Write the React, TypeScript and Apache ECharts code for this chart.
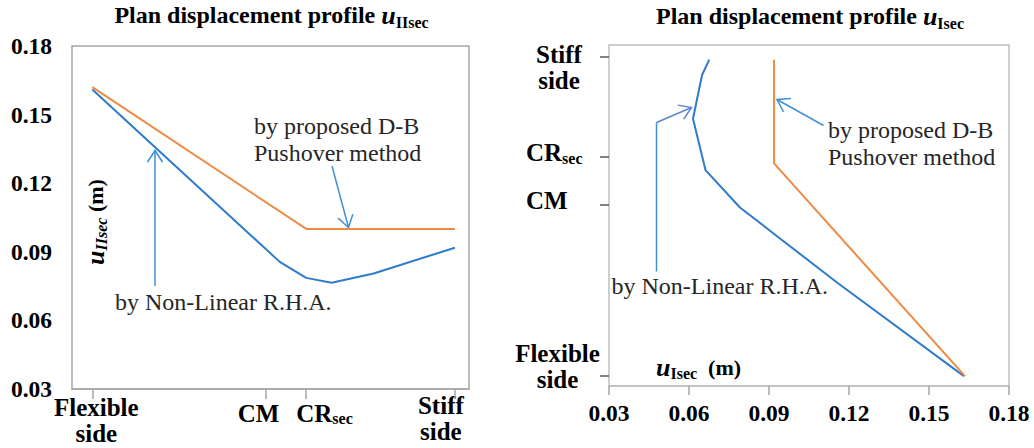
import React, { useEffect, useRef } from "react";
import * as echarts from "echarts";

// ---------- data ----------
// plan position along the section: 0 = flexible side, 10 = stiff side
const valueTicks = [0.03, 0.06, 0.09, 0.12, 0.15, 0.18];

// left chart: u_IIsec vs plan position
const leftPlanLabels = ["Flexible\nside", "CM", "CR", "Stiff\nside"];
const leftPlanPos = [0, 4.78, 5.9, 10];
const leftRhaPos = [0, 5.17, 5.9, 6.6, 7.76, 10];
const leftRhaVal = [0.161, 0.0856, 0.0786, 0.0765, 0.0805, 0.0918];
const leftDbPos = [0, 5.9, 10];
const leftDbVal = [0.162, 0.1, 0.1];

// right chart: u_Isec vs plan position
const rightPlanLabels = ["Flexible\nside", "CM", "CR", "Stiff\nside"];
const rightPlanPos = [0, 5.38, 6.87, 10];
const rightRhaVal = [0.1631, 0.116, 0.0929, 0.0791, 0.0662, 0.0615, 0.0649, 0.0676];
const rightRhaPos = [0, 2.9, 4.39, 5.28, 6.45, 8.06, 9.43, 9.91];
const rightDbVal = [0.1635, 0.0919, 0.0919];
const rightDbPos = [0, 6.66, 9.91];

const seriesNames = ["by Non-Linear R.H.A.", "by proposed D-B\nPushover method"];

// ---------- styles ----------
const SERIF = '"Liberation Serif", "Times New Roman", serif';
const BLUE = "#2f7bcb";
const ORANGE = "#ef8a43";
const ARROW = "#3f90d8";
const GRAY = "#a6a6a6";

function arrow(x1: number, y1: number, x2: number, y2: number, color: string) {
  const ang = Math.atan2(y2 - y1, x2 - x1);
  const L = 14;
  const a = (33 * Math.PI) / 180;
  const p1 = [x2 - L * Math.cos(ang - a), y2 - L * Math.sin(ang - a)];
  const p2 = [x2 - L * Math.cos(ang + a), y2 - L * Math.sin(ang + a)];
  return [
    { type: "line", shape: { x1, y1, x2, y2 }, style: { stroke: color, lineWidth: 1.5 } },
    {
      type: "polyline",
      shape: { points: [p1, [x2, y2], p2] },
      style: { stroke: color, lineWidth: 1.5, fill: null },
    },
  ];
}

const titleRich = {
  a: { fontSize: 24, fontWeight: "bold", fontFamily: SERIF, color: "#000", lineHeight: 30 },
  u: { fontSize: 26, fontWeight: "bold", fontStyle: "italic", fontFamily: SERIF, color: "#000", lineHeight: 30 },
  s: { fontSize: 16, fontWeight: "bold", fontFamily: SERIF, color: "#000", lineHeight: 17, verticalAlign: "bottom" },
};

const catStyle = {
  fontSize: 25,
  fontWeight: "bold",
  fontFamily: SERIF,
  fill: "#000",
  lineHeight: 26,
};

const catRich = {
  b: { fontSize: 25, fontWeight: "bold", fontFamily: SERIF, color: "#000", lineHeight: 27 },
  s: { fontSize: 16, fontWeight: "bold", fontFamily: SERIF, color: "#000", lineHeight: 17, verticalAlign: "bottom" },
};

const annStyle = {
  fontSize: 24,
  fontFamily: SERIF,
  fill: "#262626",
  lineHeight: 27,
};

export default function App() {
  const ref = useRef<HTMLDivElement>(null);

  useEffect(() => {
    if (!ref.current) return;
    const chart = echarts.init(ref.current, undefined, { renderer: "svg" });

    const valueLabel = {
      fontSize: 23.5,
      fontWeight: "bold",
      fontFamily: SERIF,
      color: "#000",
      formatter: (v: number) => v.toFixed(2),
    };

    chart.setOption({
      animation: false,
      backgroundColor: "#fff",
      grid: [
        { left: 72, top: 46, width: 397, height: 343, show: true, borderColor: GRAY, borderWidth: 1.5 },
        { left: 609, top: 45, width: 400, height: 341, show: true, borderColor: "#bfbfbf", borderWidth: 1.5 },
      ],
      xAxis: [
        {
          type: "value",
          gridIndex: 0,
          min: -0.56,
          max: 10.39,
          axisLine: { show: true, onZero: false, lineStyle: { color: GRAY, width: 1.5 } },
          axisTick: { show: true, customValues: leftPlanPos, length: 10, lineStyle: { color: GRAY, width: 1.5 } },
          axisLabel: { show: false },
          splitLine: { show: false },
        },
        {
          type: "value",
          gridIndex: 1,
          min: valueTicks[0],
          max: valueTicks[valueTicks.length - 1],
          interval: 0.03,
          axisLine: { show: true, onZero: false, lineStyle: { color: "#bfbfbf", width: 1.5 } },
          axisTick: { show: true, length: 9, lineStyle: { color: GRAY, width: 1.5 } },
          axisLabel: { ...valueLabel, margin: 15 },
          splitLine: { show: false },
        },
      ],
      yAxis: [
        {
          type: "value",
          gridIndex: 0,
          min: valueTicks[0],
          max: valueTicks[valueTicks.length - 1],
          interval: 0.03,
          axisLine: { show: false, onZero: false },
          axisTick: { show: false },
          axisLabel: { ...valueLabel, margin: 20 },
          splitLine: { show: false },
        },
        {
          type: "value",
          gridIndex: 1,
          min: -0.31,
          max: 10.37,
          axisLine: { show: false, onZero: false },
          axisTick: { show: true, customValues: rightPlanPos, length: 9, lineStyle: { color: "#595959", width: 1.5 } },
          axisLabel: { show: false },
          splitLine: { show: false },
        },
      ],
      series: [
        {
          name: seriesNames[0],
          type: "line",
          xAxisIndex: 0,
          yAxisIndex: 0,
          symbol: "none",
          lineStyle: { color: BLUE, width: 2 },
          data: leftRhaPos.map((p, i) => [p, leftRhaVal[i]]),
        },
        {
          name: seriesNames[1],
          type: "line",
          xAxisIndex: 0,
          yAxisIndex: 0,
          symbol: "none",
          lineStyle: { color: ORANGE, width: 2 },
          data: leftDbPos.map((p, i) => [p, leftDbVal[i]]),
        },
        {
          name: seriesNames[0],
          type: "line",
          xAxisIndex: 1,
          yAxisIndex: 1,
          symbol: "none",
          lineStyle: { color: BLUE, width: 2 },
          data: rightRhaVal.map((v, i) => [v, rightRhaPos[i]]),
        },
        {
          name: seriesNames[1],
          type: "line",
          xAxisIndex: 1,
          yAxisIndex: 1,
          symbol: "none",
          lineStyle: { color: ORANGE, width: 2 },
          data: rightDbVal.map((v, i) => [v, rightDbPos[i]]),
        },
      ],
    });

    // positions from the library's axes
    const px = (q: any, v: number) => chart.convertToPixel(q, v) as unknown as number;
    const lx = (v: number) => px({ xAxisIndex: 0 }, v);
    const lAxisY = px({ yAxisIndex: 0 }, valueTicks[0]);
    const ry = (v: number) => px({ yAxisIndex: 1 }, v);
    const rAxisX = px({ xAxisIndex: 1 }, valueTicks[0]);

    const catText = (label: string, x: number, y: number, align: string, vAlign: string) => {
      if (label === "CR") {
        return {
          type: "text",
          x,
          y,
          style: { text: "{b|CR}{s|sec}", rich: catRich, align, verticalAlign: vAlign },
        };
      }
      return { type: "text", x, y, style: { ...catStyle, text: label, align, verticalAlign: vAlign } };
    };

    const axisNameRich = {
      u: { fontSize: 26, fontWeight: "bold", fontStyle: "italic", fontFamily: SERIF, color: "#000", lineHeight: 28 },
      s: { fontSize: 16, fontWeight: "bold", fontStyle: "italic", fontFamily: SERIF, color: "#000", lineHeight: 17, verticalAlign: "bottom" },
      t: { fontSize: 16, fontWeight: "bold", fontFamily: SERIF, color: "#000", lineHeight: 17, verticalAlign: "bottom" },
      m: { fontSize: 22, fontWeight: "bold", fontFamily: SERIF, color: "#000", lineHeight: 28 },
    };

    const graphics: any[] = [
      // titles
      {
        type: "text",
        x: 271.5,
        y: 15,
        style: { text: "{a|Plan displacement profile }{u|u}{s|IIsec}", rich: titleRich, align: "center", verticalAlign: "middle" },
      },
      {
        type: "text",
        x: 810,
        y: 16,
        style: { text: "{a|Plan displacement profile }{u|u}{s|Isec}", rich: titleRich, align: "center", verticalAlign: "middle" },
      },
      // axis names
      {
        type: "text",
        x: 95,
        y: 222,
        rotation: Math.PI / 2,
        style: { text: "{u|u}{s|IIsec}{m| (m)}", align: "center", verticalAlign: "middle", rich: axisNameRich },
      },
      {
        type: "text",
        x: 656,
        y: 367,
        style: { text: "{u|u}{t|Isec}{m|  (m)}", align: "left", verticalAlign: "middle", rich: axisNameRich },
      },
      // left category labels
      catText(leftPlanLabels[0], lx(leftPlanPos[0]) + 4, lAxisY + 5, "center", "top"),
      catText(leftPlanLabels[1], lx(leftPlanPos[1]) - 7, lAxisY + 24, "center", "middle"),
      catText(leftPlanLabels[2], lx(leftPlanPos[2]) - 10, lAxisY + 24, "left", "middle"),
      catText(leftPlanLabels[3], lx(leftPlanPos[3]) - 14, lAxisY + 3, "center", "top"),
      // right category labels
      catText(rightPlanLabels[3], rAxisX - 50, ry(rightPlanPos[3]) - 15, "center", "top"),
      catText(rightPlanLabels[2], rAxisX - 83, ry(rightPlanPos[2]) - 4, "left", "middle"),
      catText(rightPlanLabels[1], rAxisX - 83, ry(rightPlanPos[1]) - 4, "left", "middle"),
      catText(rightPlanLabels[0], rAxisX - 51.5, ry(rightPlanPos[0]) - 36, "center", "top"),
      // annotations left
      { type: "text", x: 254, y: 112, style: { ...annStyle, text: seriesNames[1], align: "left", verticalAlign: "top" } },
      { type: "text", x: 115, y: 302, style: { ...annStyle, text: seriesNames[0], align: "left", verticalAlign: "middle" } },
      ...arrow(332, 166, 348.5, 227.5, ARROW),
      ...arrow(155, 286, 155, 150.5, ARROW),
      // annotations right
      { type: "text", x: 828, y: 116.5, style: { ...annStyle, text: seriesNames[1], align: "left", verticalAlign: "top" } },
      { type: "text", x: 611.5, y: 286, style: { ...annStyle, text: seriesNames[0], align: "left", verticalAlign: "middle" } },
      ...arrow(823.5, 125.5, 777, 99.5, ARROW),
      { type: "line", shape: { x1: 656.5, y1: 271.5, x2: 656.5, y2: 122.5 }, style: { stroke: ARROW, lineWidth: 1.5 } },
      ...arrow(656.5, 122.5, 691.5, 107.5, "#5a86d3"),
    ];

    chart.setOption({ graphic: graphics });

    return () => chart.dispose();
  }, []);

  return (
    <div
      ref={ref}
      style={{ position: "absolute", left: 0, top: 0, width: 1034, height: 448 }}
    />
  );
}
